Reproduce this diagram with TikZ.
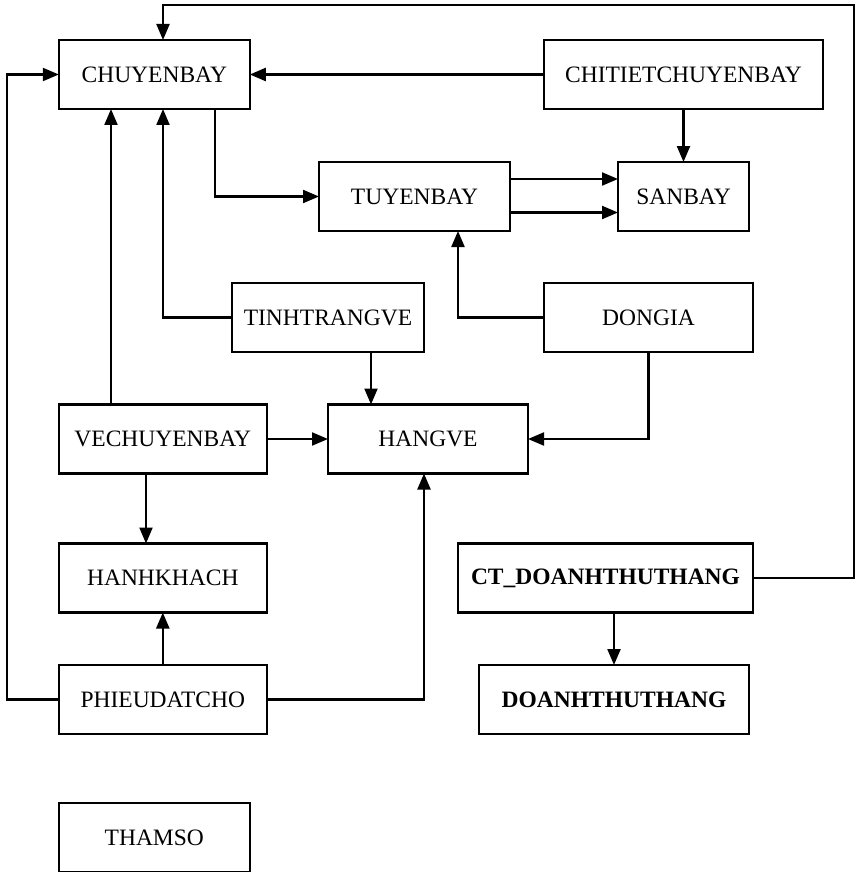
\documentclass[tikz,border=0pt]{standalone}
\usepackage{fontspec}
\setmainfont{Liberation Serif}
\usetikzlibrary{arrows.meta}
\begin{document}
\begin{tikzpicture}[x=1pt,y=-1pt,
  tbl/.style={draw, line width=2.2pt, inner sep=0pt, outer sep=0pt,
    minimum height=69pt, font=\fontsize{23.5}{27}\selectfont},
  rel/.style={line width=2.2pt, -{Triangle[length=16pt,width=13pt]}}]
\useasboundingbox (0,0) rectangle (856,872);
\clip (0,0) rectangle (856,872);

% tables
\node[tbl, minimum width=191pt] (chuyenbay) at (154.3,74.5) {CHUYENBAY};
\node[tbl, minimum width=279pt] (chitiet) at (683.5,74.5) {CHITIETCHUYENBAY};
\node[tbl, minimum width=191pt] (tuyenbay) at (414.5,196.5) {TUYENBAY};
\node[tbl, minimum width=131pt] (sanbay) at (683.5,196.5) {SANBAY};
\node[tbl, minimum width=192pt] (tinhtrang) at (328,317.5) {TINHTRANGVE};
\node[tbl, minimum width=209pt] (dongia) at (648.5,317.5) {DONGIA};
\node[tbl, minimum width=208pt] (vechuyenbay) at (162.8,439) {VECHUYENBAY};
\node[tbl, minimum width=200pt] (hangve) at (428,439) {HANGVE};
\node[tbl, minimum width=208pt] (hanhkhach) at (162.8,578) {HANHKHACH};
\node[tbl, minimum width=295pt] (ctdt) at (605.5,578) {\bfseries CT\_DOANHTHUTHANG};
\node[tbl, minimum width=208pt] (phieu) at (162.8,699.5) {PHIEUDATCHO};
\node[tbl, minimum width=270pt] (doanhthu) at (614,699.5) {\bfseries DOANHTHUTHANG};
\node[tbl, minimum width=191pt] (thamso) at (154.3,837.5) {THAMSO};

% routing points
\coordinate (topright) at (854,5);
\coordinate (ts) at ([xshift=43pt]tinhtrang.south);

% relationships
\draw[rel] (chitiet.west) -- (chuyenbay.east);
\draw[rel] (chitiet.south) -- (sanbay.north);
\draw[rel] ([yshift=17.5pt]tuyenbay.east) -- ([yshift=17.5pt]sanbay.west);
\draw[rel] ([yshift=-16pt]tuyenbay.east) -- ([yshift=-16pt]sanbay.west);
\draw[rel] ([xshift=60.7pt]chuyenbay.south) |- (tuyenbay.west);
\draw[rel] (ctdt.east) -| (topright) -| ([xshift=8.7pt]chuyenbay.north);
\draw[rel] (tinhtrang.west) -| ([xshift=8.7pt]chuyenbay.south);
\draw[rel] ([xshift=-51.8pt]vechuyenbay.north) -- ([xshift=-43.3pt]chuyenbay.south);
\draw[rel] (ts) -- (ts |- hangve.north);
\draw[rel] (dongia.west) -| ([xshift=43.5pt]tuyenbay.south);
\draw[rel] (dongia.south) |- (hangve.east);
\draw[rel] (vechuyenbay.east) -- (hangve.west);
\draw[rel] ([xshift=-16.8pt]vechuyenbay.south) -- ([xshift=-16.8pt]hanhkhach.north);
\draw[rel] (phieu.north) -- (hanhkhach.south);
\draw[rel] (phieu.west) -- ++(-51.7,0) |- (chuyenbay.west);
\draw[rel] (phieu.east) -| ([xshift=-4pt]hangve.south);
\draw[rel] ([xshift=8.5pt]ctdt.south) -- (doanhthu.north);
\end{tikzpicture}
\end{document}
